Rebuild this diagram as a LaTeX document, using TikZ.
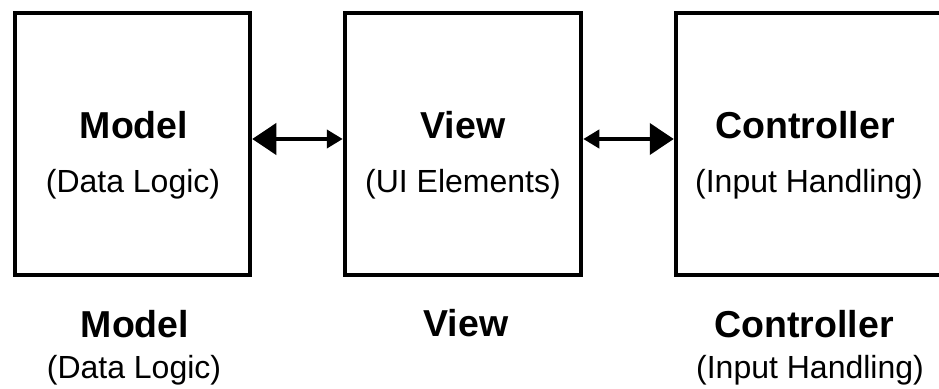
\documentclass[tikz,border=0pt]{standalone}
\usepackage{fontspec}
\setmainfont{Liberation Sans}
\usetikzlibrary{arrows.meta}

\begin{document}
\begin{tikzpicture}[x=1pt,y=-1pt,
  block/.style={draw=black, line width=4.5pt, fill=white, inner sep=0pt},
  title/.style={anchor=base, inner sep=0pt, font=\fontsize{37.5}{40}\selectfont\bfseries},
  subtitle/.style={anchor=base, inner sep=0pt, font=\fontsize{32}{36}\selectfont},
  link/.style={line width=4pt,
    {Triangle[length=24pt,width=31pt]}-{Triangle[length=16pt,width=18pt]}},
  linkr/.style={line width=4pt,
    {Triangle[length=16pt,width=18pt]}-{Triangle[length=24pt,width=31pt]}}]
  \useasboundingbox (0,0) rectangle (939,388);
  \clip (0,0) rectangle (939,388);
  \fill[white] (0,0) rectangle (939,388);

  % the three component boxes
  \node[block, minimum width=235pt, minimum height=262pt] (model) at (132.5,144) {};
  \node[block, minimum width=236pt, minimum height=262pt] (view) at (463,144) {};
  \node[block, minimum width=270pt, minimum height=262pt] (ctrl) at (811,144) {};

  % labels inside the boxes
  \node[title] (modelT) at (134,138) {Model};
  \node[subtitle] (modelS) at (133,192) {(Data Logic)};
  \node[title] (viewT) at (463,138) {View};
  \node[subtitle] (viewS) at (463,192) {(UI Elements)};
  \node[title] (ctrlT) at (805,138) {Controller};
  \node[subtitle] (ctrlS) at (809,192) {(Input Handling)};

  % labels below the boxes
  \node[title] (modelB) at (135,337) {Model};
  \node[subtitle] (modelBS) at (134,378) {(Data Logic)};
  \node[title] (viewB) at (466,336) {View};
  \node[title] (ctrlB) at (804,337) {Controller};
  \node[subtitle] (ctrlBS) at (810,378) {(Input Handling)};

  % connectors between the boxes
  \draw[link] (model.east |- 0,139) -- (view.west |- 0,139);
  \draw[linkr] (view.east |- 0,139) -- (ctrl.west |- 0,139);
\end{tikzpicture}
\end{document}
